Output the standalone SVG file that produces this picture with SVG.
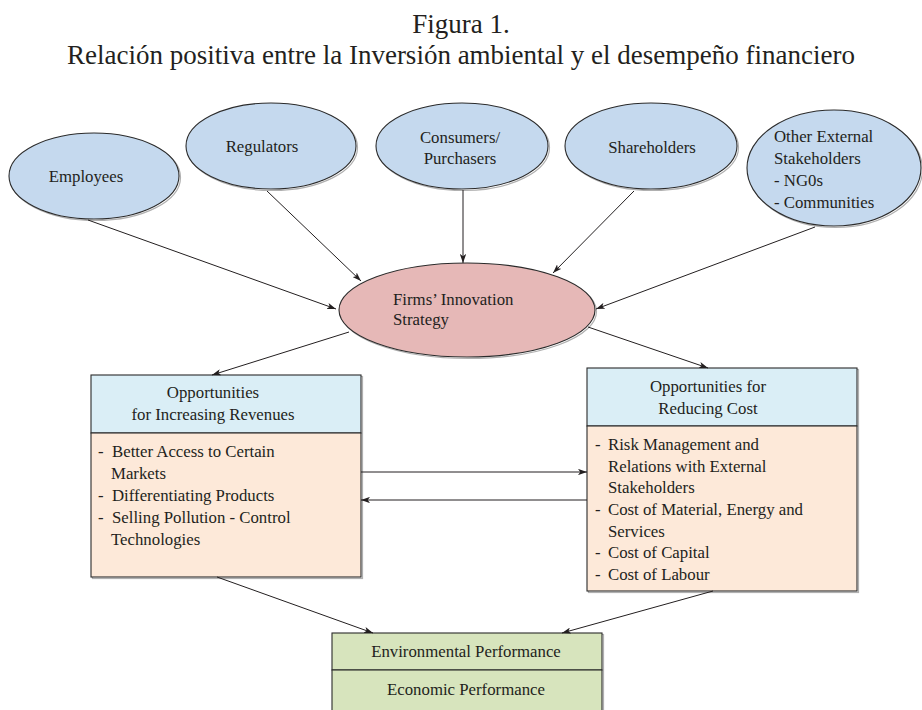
<svg xmlns="http://www.w3.org/2000/svg" width="922" height="710" viewBox="0 0 922 710">
<defs>
<marker id="ah" viewBox="0 0 10 7" refX="10" refY="3.5" markerWidth="9" markerHeight="6.3" markerUnits="userSpaceOnUse" orient="auto">
<path d="M0,0 L10,3.5 L0,7 L2.5,3.5 z" fill="#231f20"/>
</marker>
</defs>
<style>
text{font-family:"Liberation Serif","Times New Roman",serif;fill:#231f20;font-size:16.8px}
.title{font-size:27px}
.c{text-anchor:middle}
.sh{fill:none;stroke:#b0b0b0;stroke-width:1.2}
.ell{fill:#c5d9ee;stroke:#2b2b2b;stroke-width:1.1}
.firm{fill:#e6b8b7;stroke:#2b2b2b;stroke-width:1.1}
.hdr{fill:#daeef6;stroke:#2b2b2b;stroke-width:1.1}
.body{fill:#fde9d9;stroke:#2b2b2b;stroke-width:1.1}
.grn{fill:#d7e4bd;stroke:#2b2b2b;stroke-width:1.1}
.con line{stroke:#231f20;stroke-width:1;marker-end:url(#ah)}
</style>
<rect width="922" height="710" fill="#fff"/>
<g id="title">
<text class="title c" x="461" y="33">Figura 1.</text>
<text class="title c" x="461" y="64">Relación positiva entre la Inversión ambiental y el desempeño financiero</text>
</g>
<g id="employees">
<ellipse class="sh" cx="95.5" cy="177.5" rx="85" ry="43"/>
<ellipse class="ell" cx="94" cy="176" rx="85" ry="43"/>
<text class="c" x="86" y="182">Employees</text>
</g>
<g id="regulators">
<ellipse class="sh" cx="272.5" cy="147.5" rx="85" ry="43"/>
<ellipse class="ell" cx="271" cy="146" rx="85" ry="43"/>
<text class="c" x="262" y="152">Regulators</text>
</g>
<g id="consumers">
<ellipse class="sh" cx="463.5" cy="147.5" rx="86" ry="43"/>
<ellipse class="ell" cx="462" cy="146" rx="86" ry="43"/>
<text class="c" x="460" y="143">Consumers/</text>
<text class="c" x="460" y="164">Purchasers</text>
</g>
<g id="shareholders">
<ellipse class="sh" cx="652.5" cy="147.5" rx="86" ry="43"/>
<ellipse class="ell" cx="651" cy="146" rx="86" ry="43"/>
<text class="c" x="652" y="153">Shareholders</text>
</g>
<g id="other">
<ellipse class="sh" cx="835.5" cy="169.5" rx="87" ry="58"/>
<ellipse class="ell" cx="834" cy="168" rx="87" ry="58"/>
<text x="774" y="142">Other External</text>
<text x="774" y="164">Stakeholders</text>
<text x="774" y="186">- NG0s</text>
<text x="774" y="208">- Communities</text>
</g>
<g id="firms">
<ellipse class="sh" cx="468.5" cy="311.5" rx="128" ry="47"/>
<ellipse class="firm" cx="467" cy="310" rx="128" ry="47"/>
<text x="393" y="305">Firms’ Innovation</text>
<text x="393" y="325">Strategy</text>
</g>
<g id="revenues">
<rect class="sh" x="92.5" y="376.5" width="270" height="202"/>
<rect class="hdr" x="91" y="375" width="270" height="58"/>
<rect class="body" x="91" y="433" width="270" height="144"/>
<text class="c" x="213" y="398">Opportunities</text>
<text class="c" x="213" y="420">for Increasing Revenues</text>
<text x="98" y="457">-</text><text x="112" y="457">Better Access to Certain</text>
<text x="111" y="479">Markets</text>
<text x="98" y="501">-</text><text x="112" y="501">Differentiating Products</text>
<text x="98" y="523">-</text><text x="112" y="523">Selling Pollution - Control</text>
<text x="111" y="545">Technologies</text>
</g>
<g id="cost">
<rect class="sh" x="588.5" y="369.5" width="270" height="223"/>
<rect class="hdr" x="587" y="368" width="270" height="58"/>
<rect class="body" x="587" y="426" width="270" height="165"/>
<text class="c" x="708" y="392">Opportunities for</text>
<text class="c" x="708" y="414">Reducing Cost</text>
<text x="595" y="450">-</text><text x="608" y="450">Risk  Management and</text>
<text x="608" y="472">Relations with External</text>
<text x="608" y="493">Stakeholders</text>
<text x="595" y="515">-</text><text x="608" y="515">Cost of Material, Energy and</text>
<text x="608" y="537">Services</text>
<text x="595" y="558">-</text><text x="608" y="558">Cost of Capital</text>
<text x="595" y="580">-</text><text x="608" y="580">Cost of Labour</text>
</g>
<g id="performance">
<rect class="sh" x="333.5" y="634.5" width="270" height="80"/>
<rect class="grn" x="332" y="633" width="270" height="37"/>
<rect class="grn" x="332" y="670" width="270" height="44"/>
<text class="c" x="466" y="657">Environmental Performance</text>
<text class="c" x="466" y="695">Economic Performance</text>
</g>
<g id="connectors" class="con">
<line x1="88" y1="220" x2="336" y2="309"/>
<line x1="267" y1="191" x2="361" y2="281"/>
<line x1="463" y1="190" x2="463" y2="263"/>
<line x1="634" y1="191" x2="553" y2="273"/>
<line x1="815" y1="227" x2="596" y2="309"/>
<line x1="349" y1="332" x2="212" y2="375"/>
<line x1="588" y1="327" x2="708" y2="368"/>
<line x1="361" y1="472" x2="587" y2="472"/>
<line x1="587" y1="500" x2="361" y2="500"/>
<line x1="217" y1="577" x2="373" y2="633"/>
<line x1="713" y1="591" x2="562" y2="633"/>
</g>
</svg>
